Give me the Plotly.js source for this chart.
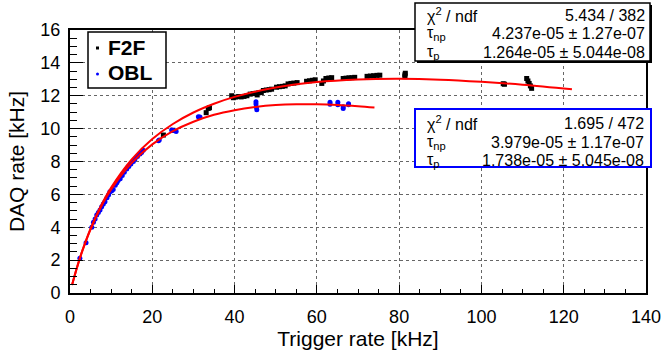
<!DOCTYPE html>
<html>
<head>
<meta charset="utf-8">
<script src="https://cdn.plot.ly/plotly-3.0.1.min.js"></script>
<style>html,body{margin:0;padding:0;background:#fff;}#chart{width:666px;height:363px;}</style>
</head>
<body>
<div id="chart"></div>
<script>
// ---- data ----
const f2fX = [22.7, 25.0, 33.1, 33.6, 33.9, 39.3, 39.7, 40.2, 41.0, 41.6, 42.3, 43.0,
  43.8, 44.5, 45.2, 45.5, 45.9, 46.5, 47.0, 47.7, 48.4, 49.0, 50.2, 50.9, 51.6, 52.3,
  53.0, 53.7, 54.4, 55.2, 57.5, 58.2, 58.9, 59.6, 61.2, 61.6, 62.2, 62.9, 63.6,
  66.4, 67.1, 67.8, 68.5, 69.2, 72.2, 73.0, 73.8, 74.6, 75.3, 81.4, 81.4, 81.5,
  105.3, 105.6, 111.0, 111.3, 111.6, 111.9, 112.2];
const f2fY = [9.61, 9.90, 10.97, 11.23, 11.27, 12.00, 11.88, 11.92, 11.95, 11.93, 11.96, 12.00,
  12.10, 12.13, 12.15, 12.05, 12.18, 12.20, 12.32, 12.35, 12.37, 12.40, 12.52, 12.55, 12.57, 12.60,
  12.72, 12.75, 12.77, 12.80, 12.88, 12.91, 12.94, 12.97, 12.75, 12.90, 13.05, 13.08, 13.10,
  13.05, 13.07, 13.09, 13.10, 13.12, 13.18, 13.20, 13.22, 13.24, 13.25, 13.16, 13.27, 13.37,
  12.73, 12.70, 13.05, 12.90, 12.75, 12.60, 12.45];

const oblX = [2.4, 3.9, 5.3, 5.7, 6.1, 6.5, 6.9, 7.3, 7.7, 8.1, 8.5, 9.0, 9.4, 9.7, 10.1, 10.5,
  11.0, 11.4, 11.7, 12.2, 12.7, 13.2, 13.8, 14.3, 14.8, 15.4, 15.8, 16.4, 17.0, 17.4, 17.8,
  21.5, 21.7, 24.7, 25.2, 25.8, 31.2, 31.6, 45.2, 45.2, 45.3, 45.4,
  63.2, 63.2, 65.1, 65.1, 66.4, 66.4, 67.7, 67.7];
const oblY = [2.11, 3.06, 4.00, 4.30, 4.50, 4.74, 4.90, 5.05, 5.25, 5.42, 5.55, 5.80, 5.98, 6.16, 6.20, 6.30,
  6.55, 6.70, 6.85, 6.95, 7.15, 7.35, 7.55, 7.70, 7.85, 8.00, 8.15, 8.30, 8.45, 8.55, 8.68,
  9.26, 9.31, 9.92, 9.88, 9.83, 10.73, 10.70, 11.64, 11.50, 11.30, 11.15,
  11.60, 11.48, 11.60, 11.45, 11.33, 11.22, 11.52, 11.45];

const f2fFitX = [0.5, 1, 2, 3, 5, 7.5, 10, 15, 20, 25, 30, 35, 40, 50, 60, 70, 80, 90, 100, 110, 122];
const f2fFitY = [0.487, 0.948, 1.801, 2.574, 3.915, 5.292, 6.417, 8.133, 9.367, 10.28, 10.98, 11.51,
  11.93, 12.50, 12.83, 12.99, 13.03, 12.98, 12.85, 12.67, 12.39];
const oblFitX = [0.5, 1, 2, 3, 5, 7.5, 10, 15, 20, 25, 30, 35, 40, 45, 50, 55, 60, 65, 70, 74];
const oblFitY = [0.486, 0.946, 1.794, 2.558, 3.877, 5.216, 6.298, 7.916, 9.044, 9.845, 10.42, 10.84,
  11.12, 11.31, 11.43, 11.48, 11.48, 11.44, 11.36, 11.28];

const seriesNames = ["F2F", "OBL"];
const stats1Labels = ["χ<sup>2</sup> / ndf", "τ<sub>np</sub>", "τ<sub>p</sub>"];
const stats1Values = ["5.434 / 382", "4.237e-05 ± 1.27e-07", "1.264e-05 ± 5.044e-08"];
const stats2Labels = ["χ<sup>2</sup> / ndf", "τ<sub>np</sub>", "τ<sub>p</sub>"];
const stats2Values = ["1.695 / 472", "3.979e-05 ± 1.17e-07", "1.738e-05 ± 5.045e-08"];
const xTitle = "Trigger rate [kHz]";
const yTitle = "DAQ rate [kHz]";

// ---- layout helpers (pixel -> paper) ----
const L = 70, R = 646, T = 30, B = 293;
const px = v => (v - L) / (R - L);
const py = v => (B - v) / (B - T);
const FONT = "Liberation Sans, Arial, Helvetica, sans-serif";

const traces = [
  {x: f2fX, y: f2fY, mode: "markers", type: "scatter", name: seriesNames[0],
   marker: {symbol: "square", size: 5, color: "#000000"}},
  {x: oblX, y: oblY, mode: "markers", type: "scatter", name: seriesNames[1],
   marker: {symbol: "circle", size: 5, color: "#0000ff"}},
  {x: f2fFitX, y: f2fFitY, mode: "lines", type: "scatter",
   line: {color: "#ff0000", width: 2, shape: "spline", smoothing: 1}},
  {x: oblFitX, y: oblFitY, mode: "lines", type: "scatter",
   line: {color: "#ff0000", width: 2, shape: "spline", smoothing: 1}}
];

const shapes = [];
const annotations = [];

// legend box
shapes.push({type: "rect", xref: "paper", yref: "paper", x0: px(88), x1: px(166), y0: py(88), y1: py(32),
  line: {color: "#000", width: 1.5}, fillcolor: "#fff", layer: "above"});
shapes.push({type: "rect", xref: "paper", yref: "paper", x0: px(96), x1: px(99), y0: py(49.5), y1: py(46.5),
  line: {width: 0}, fillcolor: "#000", layer: "above"});
shapes.push({type: "circle", xref: "paper", yref: "paper", x0: px(96), x1: px(99), y0: py(75.5), y1: py(72.5),
  line: {width: 0}, fillcolor: "#0000ff", layer: "above"});
annotations.push({xref: "paper", yref: "paper", x: px(106), y: py(47), xanchor: "left", yanchor: "middle",
  text: "<b>" + seriesNames[0] + "</b>", showarrow: false, font: {family: FONT, size: 21, color: "#000"}});
annotations.push({xref: "paper", yref: "paper", x: px(106), y: py(73), xanchor: "left", yanchor: "middle",
  text: "<b>" + seriesNames[1] + "</b>", showarrow: false, font: {family: FONT, size: 21, color: "#000"}});

// stats box 1 (black, with shadow)
shapes.push({type: "rect", xref: "paper", yref: "paper", x0: px(417), x1: px(652), y0: py(63), y1: py(5),
  line: {width: 0}, fillcolor: "#000", layer: "above"});
shapes.push({type: "rect", xref: "paper", yref: "paper", x0: px(415), x1: px(650), y0: py(61), y1: py(3),
  line: {color: "#000", width: 1.5}, fillcolor: "#fff", layer: "above"});
// stats box 2 (blue)
shapes.push({type: "rect", xref: "paper", yref: "paper", x0: px(415), x1: px(651), y0: py(167), y1: py(109),
  line: {color: "#0000ff", width: 2}, fillcolor: "#fff", layer: "above"});

const rows1 = [15, 33, 52], rows2 = [123, 142, 160];
for (let i = 0; i < 3; i++) {
  annotations.push({xref: "paper", yref: "paper", x: px(425), y: py(rows1[i]), xanchor: "left", yanchor: "middle",
    text: stats1Labels[i], showarrow: false, font: {family: FONT, size: 16, color: "#000"}});
  annotations.push({xref: "paper", yref: "paper", x: px(647), y: py(rows1[i]), xanchor: "right", yanchor: "middle",
    text: stats1Values[i], showarrow: false, font: {family: FONT, size: 16, color: "#000"}});
  annotations.push({xref: "paper", yref: "paper", x: px(425), y: py(rows2[i]), xanchor: "left", yanchor: "middle",
    text: stats2Labels[i], showarrow: false, font: {family: FONT, size: 16, color: "#000"}});
  annotations.push({xref: "paper", yref: "paper", x: px(646), y: py(rows2[i]), xanchor: "right", yanchor: "middle",
    text: stats2Values[i], showarrow: false, font: {family: FONT, size: 16, color: "#000"}});
}

const axisCommon = {
  showline: true, linecolor: "#000", linewidth: 2, mirror: true,
  ticks: "inside", tickcolor: "#000", tickwidth: 1,
  showgrid: true, gridcolor: "#666", gridwidth: 1, griddash: "dot",
  zeroline: false, tickfont: {family: FONT, size: 18, color: "#000"}
};

const layout = {
  width: 666, height: 363,
  margin: {l: L, r: 666 - R, t: T, b: 363 - B, pad: 0},
  paper_bgcolor: "#fff", plot_bgcolor: "#fff",
  showlegend: false,
  font: {family: FONT, color: "#000"},
  xaxis: Object.assign({}, axisCommon, {
    range: [0, 140], tick0: 0, dtick: 20, ticklen: 8, ticklabelstandoff: 6,
    minor: {dtick: 5, ticklen: 4, ticks: "inside", tickcolor: "#000", showgrid: false},
    title: {text: xTitle, font: {family: FONT, size: 21, color: "#000"}, standoff: 6}
  }),
  yaxis: Object.assign({}, axisCommon, {
    range: [0, 16], tick0: 0, dtick: 2, ticklen: 13, ticklabelstandoff: 4,
    minor: {dtick: 0.5, ticklen: 7, ticks: "inside", tickcolor: "#000", showgrid: false},
    title: {text: yTitle, font: {family: FONT, size: 21, color: "#000"}, standoff: 10}
  }),
  shapes: shapes,
  annotations: annotations
};

Plotly.newPlot("chart", traces, layout, {staticPlot: true, displayModeBar: false});
</script>
</body>
</html>
